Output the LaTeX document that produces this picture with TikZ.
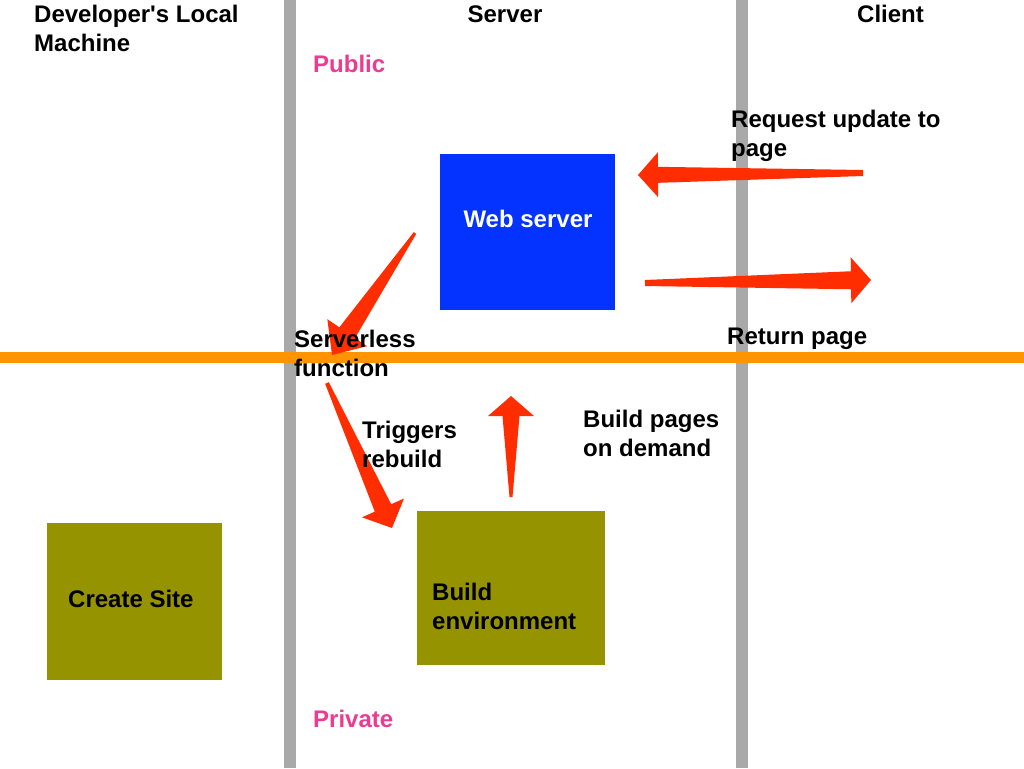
\documentclass[tikz,border=0pt]{standalone}
\usepackage{fontspec}
\setmainfont{Liberation Sans}
\usetikzlibrary{calc}
\definecolor{wsblue}{HTML}{0433FF}
\definecolor{olivebox}{HTML}{959300}
\definecolor{lanegray}{HTML}{A9A9A9}
\definecolor{zoneorange}{HTML}{FF9300}
\definecolor{arrowred}{HTML}{FF2D00}
\definecolor{zonepink}{HTML}{EC3B91}
% tapered arrow: #1 tail, #2 tip, #3 head length, #4 head half width, #5 shaft half width at head, #6 tail half width
\newcommand\redtaper[6]{%
  \path ($(#2)!#3!(#1)$) coordinate (bb);
  \fill[arrowred] ($(#1)!#6!90:(#2)$) -- ($(bb)!#5!90:(#2)$) -- ($(bb)!#4!90:(#2)$) -- (#2)
    -- ($(bb)!#4!-90:(#2)$) -- ($(bb)!#5!-90:(#2)$) -- ($(#1)!#6!-90:(#2)$) -- cycle;}
\begin{document}
\begin{tikzpicture}[x=1pt,y=-1pt,
  box/.style={inner sep=0pt, outer sep=0pt, draw=none},
  lbl/.style={font=\bfseries\fontsize{24}{29}\selectfont, inner sep=0pt, align=left, anchor=base west},
  zone/.style={lbl, text=zonepink}]
\useasboundingbox (0,0) rectangle (1024,768);
\fill[white] (0,0) rectangle (1024,768);
% lanes
\fill[lanegray] (284,0) rectangle (296,768);
\fill[lanegray] (736,0) rectangle (748,768);
\fill[zoneorange] (0,352) rectangle (1024,363);
% boxes
\node[box, fill=wsblue, minimum width=175pt, minimum height=156pt] (web) at (527.5,232) {};
\node[box, fill=olivebox, minimum width=188pt, minimum height=154pt] (build) at (511,588) {};
\node[box, fill=olivebox, minimum width=175pt, minimum height=157pt] (create) at (134.5,601.5) {};
% arrow end points
\coordinate (sfTail) at (415,233);
\coordinate (sfTip) at (332,355);
\coordinate (trTail) at (327,383);
\coordinate (trTip) at (392,528);
\coordinate (bpTail) at (511,497);
\coordinate (bpTip) at (511,396);
\coordinate (rqTail) at (863,173);
\coordinate (rqTip) at (638,175);
\coordinate (rpTail) at (645,283);
\coordinate (rpTip) at (871,280);
\redtaper{sfTail}{sfTip}{27pt}{24pt}{9.5pt}{1.5pt}
\redtaper{trTail}{trTip}{22pt}{23pt}{9pt}{2pt}
\redtaper{bpTail}{bpTip}{20pt}{23pt}{8.5pt}{1.5pt}
\redtaper{rqTail}{rqTip}{20pt}{22.5pt}{8pt}{3pt}
\redtaper{rpTail}{rpTip}{20pt}{23pt}{9pt}{3pt}
% texts (base anchor = baseline of the last line)
\node[lbl] (dev) at (34,52) {Developer\textquotesingle s Local\\Machine};
\node[lbl, anchor=base] (server) at (505,23) {Server};
\node[lbl] (client) at (857,23) {Client};
\node[zone] (public) at (313,72) {Public};
\node[zone] (private) at (313,727) {Private};
\node[lbl] (req) at (731,156) {Request update to\\page};
\node[lbl, text=white, anchor=base] (webtxt) at (528,227) {Web server};
\node[lbl] (ret) at (727,344) {Return page};
\node[lbl] (sf) at (294,376) {Serverless\\function};
\node[lbl] (trig) at (362,467) {Triggers\\rebuild};
\node[lbl] (bpd) at (583,456) {Build pages\\on demand};
\node[lbl] (cstxt) at (68,607) {Create Site};
\node[lbl] (betxt) at (432,629) {Build\\environment};
\end{tikzpicture}
\end{document}
